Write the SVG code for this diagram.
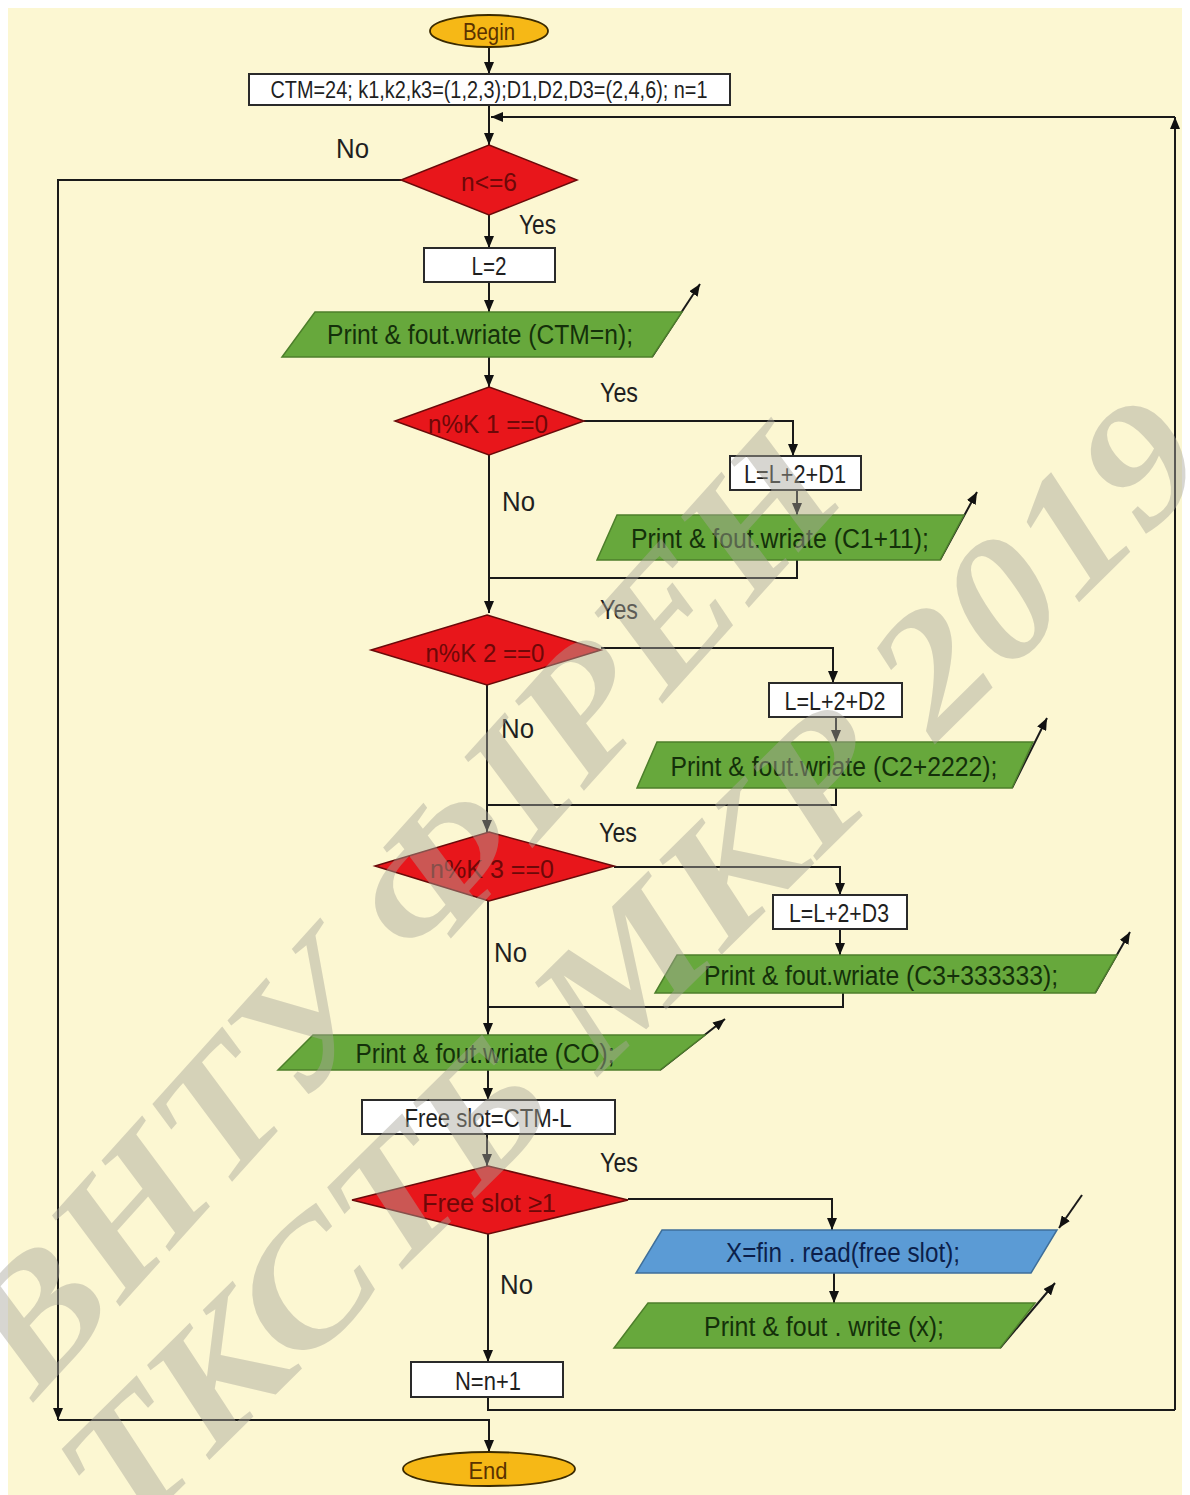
<svg xmlns="http://www.w3.org/2000/svg" width="1190" height="1495" viewBox="0 0 1190 1495">
<defs>
<marker id="ah" viewBox="0 0 12 10" refX="12" refY="5" markerWidth="12" markerHeight="10" markerUnits="userSpaceOnUse" orient="auto">
<path d="M0,0 L12,5 L0,10 Z" fill="#111"/>
</marker>
<style>
.bg{fill:#fcf7d2}
.ln{fill:none;stroke:#1a1a1a;stroke-width:2}
.ar{fill:none;stroke:#1a1a1a;stroke-width:2;marker-end:url(#ah)}
.term{fill:#f6b816;stroke:#3a2a00;stroke-width:1.8}
.box{fill:#ffffff;stroke:#2a2a2a;stroke-width:2}
.dia{fill:#e8161b;stroke:#6a0a0a;stroke-width:1.5}
.gp{fill:#67a83c;stroke:#4d7f2b;stroke-width:1.5}
.bp{fill:#5b9bd5;stroke:#3f6f9a;stroke-width:1.5}
text{font-family:"Liberation Sans Narrow","Liberation Sans",Arial,sans-serif}
.t{font-size:26px;fill:#1f1f1f;text-anchor:middle}
.tt{font-size:24px;fill:#5a3200;text-anchor:middle}
.td{font-size:26px;fill:#6e0808;text-anchor:middle}
.tg{font-size:27px;fill:#14300a;text-anchor:middle}
.tb{font-size:27px;fill:#0c1f4a;text-anchor:middle}
.lb{font-size:28px;fill:#1f1f1f}
.wm{font-family:"Liberation Serif","DejaVu Serif",serif;font-weight:bold;font-style:italic;font-size:170px;fill:#a8a69a;opacity:0.45;text-anchor:middle}
</style>
</defs>
<rect x="0" y="0" width="1190" height="1495" fill="#ffffff"/>
<rect class="bg" x="8" y="8" width="1174" height="1487"/>

<g id="connectors">
<line class="ar" x1="489" y1="47" x2="489" y2="74"/>
<line class="ar" x1="489" y1="105" x2="489" y2="145"/>
<polyline class="ar" points="1175,1410 1175,117"/>
<polyline class="ar" points="1175,117 491,117"/>
<polyline class="ar" points="401,180 58,180 58,1420"/>
<polyline class="ar" points="58,1420 489,1420 489,1452"/>
<line class="ar" x1="489" y1="215" x2="489" y2="248"/>
<line class="ar" x1="489" y1="282" x2="489" y2="312"/>
<line class="ar" x1="652" y1="357" x2="700" y2="284"/>
<line class="ar" x1="489" y1="357" x2="489" y2="387"/>
<polyline class="ar" points="584,421 793,421 793,456"/>
<line class="ar" x1="797" y1="490" x2="797" y2="515"/>
<line class="ar" x1="940" y1="560" x2="977" y2="492"/>
<line class="ar" x1="489" y1="455" x2="489" y2="613"/>
<polyline class="ln" points="797,560 797,578 489,578"/>
<polyline class="ar" points="601,648 833,648 833,683"/>
<line class="ar" x1="836" y1="717" x2="836" y2="742"/>
<line class="ar" x1="1012" y1="788" x2="1047" y2="718"/>
<line class="ar" x1="487" y1="685" x2="487" y2="832"/>
<polyline class="ln" points="836,788 836,805 487,805"/>
<polyline class="ar" points="614,867 840,867 840,895"/>
<line class="ar" x1="840" y1="929" x2="840" y2="955"/>
<line class="ar" x1="1095" y1="993" x2="1130" y2="932"/>
<line class="ar" x1="488" y1="901" x2="488" y2="1035"/>
<polyline class="ln" points="843,993 843,1007 488,1007"/>
<line class="ar" x1="660" y1="1070" x2="725" y2="1019"/>
<line class="ar" x1="488" y1="1070" x2="488" y2="1100"/>
<line class="ar" x1="487" y1="1134" x2="487" y2="1166"/>
<polyline class="ar" points="628,1199 832,1199 832,1230"/>
<line class="ar" x1="1082" y1="1195" x2="1059" y2="1228"/>
<line class="ar" x1="834" y1="1273" x2="834" y2="1303"/>
<line class="ar" x1="1000" y1="1348" x2="1055" y2="1283"/>
<line class="ar" x1="488" y1="1234" x2="488" y2="1362"/>
<polyline class="ln" points="488,1397 488,1410 1175,1410"/>
</g>

<g id="labels">
<text class="lb" x="336" y="158" textLength="33" lengthAdjust="spacingAndGlyphs">No</text>
<text class="lb" x="519" y="234" textLength="37" lengthAdjust="spacingAndGlyphs">Yes</text>
<text class="lb" x="600" y="402" textLength="38" lengthAdjust="spacingAndGlyphs">Yes</text>
<text class="lb" x="502" y="511" textLength="33" lengthAdjust="spacingAndGlyphs">No</text>
<text class="lb" x="600" y="619" textLength="38" lengthAdjust="spacingAndGlyphs">Yes</text>
<text class="lb" x="501" y="738" textLength="33" lengthAdjust="spacingAndGlyphs">No</text>
<text class="lb" x="599" y="842" textLength="38" lengthAdjust="spacingAndGlyphs">Yes</text>
<text class="lb" x="494" y="962" textLength="33" lengthAdjust="spacingAndGlyphs">No</text>
<text class="lb" x="600" y="1172" textLength="38" lengthAdjust="spacingAndGlyphs">Yes</text>
<text class="lb" x="500" y="1294" textLength="33" lengthAdjust="spacingAndGlyphs">No</text>
</g>

<g id="begin">
<ellipse class="term" cx="489" cy="31" rx="59" ry="16"/>
<text class="tt" x="489" y="40" textLength="52" lengthAdjust="spacingAndGlyphs">Begin</text>
</g>
<g id="init">
<rect class="box" x="249" y="74" width="481" height="31"/>
<text class="t" x="489" y="98" style="font-size:23px" textLength="437" lengthAdjust="spacingAndGlyphs">CTM=24; k1,k2,k3=(1,2,3);D1,D2,D3=(2,4,6); n=1</text>
</g>
<g id="cond-n">
<polygon class="dia" points="489,145 577,180 489,215 401,180"/>
<text class="td" x="489" y="191" textLength="56" lengthAdjust="spacingAndGlyphs">n&lt;=6</text>
</g>
<g id="l2">
<rect class="box" x="424" y="248" width="131" height="34"/>
<text class="t" x="489" y="275" textLength="35" lengthAdjust="spacingAndGlyphs">L=2</text>
</g>
<g id="print-ctm">
<polygon class="gp" points="315,312 682,312 652,357 282,357"/>
<text class="tg" x="480" y="344" textLength="306" lengthAdjust="spacingAndGlyphs">Print &amp; fout.wriate (CTM=n);</text>
</g>
<g id="cond-k1">
<polygon class="dia" points="489,387 584,421 489,455 395,421"/>
<text class="td" x="488" y="433" textLength="120" lengthAdjust="spacingAndGlyphs">n%K 1 ==0</text>
</g>
<g id="l-d1">
<rect class="box" x="730" y="456" width="131" height="34"/>
<text class="t" x="795" y="483" textLength="102" lengthAdjust="spacingAndGlyphs">L=L+2+D1</text>
</g>
<g id="print-c1">
<polygon class="gp" points="617,515 964,515 940,560 597,560"/>
<text class="tg" x="780" y="548" textLength="298" lengthAdjust="spacingAndGlyphs">Print &amp; fout.wriate (C1+11);</text>
</g>
<g id="cond-k2">
<polygon class="dia" points="487,615 601,650 487,685 371,650"/>
<text class="td" x="485" y="662" textLength="119" lengthAdjust="spacingAndGlyphs">n%K 2 ==0</text>
</g>
<g id="l-d2">
<rect class="box" x="769" y="683" width="133" height="34"/>
<text class="t" x="835" y="710" textLength="101" lengthAdjust="spacingAndGlyphs">L=L+2+D2</text>
</g>
<g id="print-c2">
<polygon class="gp" points="657,742 1033,742 1012,788 637,788"/>
<text class="tg" x="834" y="776" textLength="327" lengthAdjust="spacingAndGlyphs">Print &amp; fout.wriate (C2+2222);</text>
</g>
<g id="cond-k3">
<polygon class="dia" points="489,832 614,866 489,901 375,866"/>
<text class="td" x="492" y="878" textLength="124" lengthAdjust="spacingAndGlyphs">n%K 3 ==0</text>
</g>
<g id="l-d3">
<rect class="box" x="773" y="895" width="134" height="34"/>
<text class="t" x="839" y="922" textLength="100" lengthAdjust="spacingAndGlyphs">L=L+2+D3</text>
</g>
<g id="print-c3">
<polygon class="gp" points="677,955 1117,955 1095,993 655,993"/>
<text class="tg" x="881" y="985" textLength="354" lengthAdjust="spacingAndGlyphs">Print &amp; fout.wriate (C3+333333);</text>
</g>
<g id="print-co">
<polygon class="gp" points="313,1035 705,1035 660,1070 278,1070"/>
<text class="tg" x="485" y="1063" textLength="259" lengthAdjust="spacingAndGlyphs">Print &amp; fout.wriate (CO);</text>
</g>
<g id="free-slot">
<rect class="box" x="362" y="1100" width="253" height="34"/>
<text class="t" x="488" y="1127" textLength="167" lengthAdjust="spacingAndGlyphs">Free slot=CTM-L</text>
</g>
<g id="cond-free">
<polygon class="dia" points="488,1166 628,1200 488,1234 352,1200"/>
<text class="td" x="489" y="1212" textLength="134" lengthAdjust="spacingAndGlyphs">Free slot ≥1</text>
</g>
<g id="read">
<polygon class="bp" points="662,1230 1057,1230 1031,1273 636,1273"/>
<text class="tb" x="843" y="1262" textLength="234" lengthAdjust="spacingAndGlyphs">X=fin . read(free slot);</text>
</g>
<g id="write">
<polygon class="gp" points="648,1303 1035,1303 1000,1348 614,1348"/>
<text class="tg" x="824" y="1336" textLength="240" lengthAdjust="spacingAndGlyphs">Print &amp; fout . write (x);</text>
</g>
<g id="inc">
<rect class="box" x="411" y="1362" width="152" height="35"/>
<text class="t" x="488" y="1390" textLength="66" lengthAdjust="spacingAndGlyphs">N=n+1</text>
</g>
<g id="end">
<ellipse class="term" cx="489" cy="1469" rx="86" ry="17"/>
<text class="tt" x="488" y="1479" textLength="39" lengthAdjust="spacingAndGlyphs">End</text>
</g>

<g id="watermark">
<text class="wm" transform="translate(400,910) rotate(-48)" dominant-baseline="central" textLength="1220" lengthAdjust="spacingAndGlyphs">ВНТУ ФІРЕН</text>
<text class="wm" transform="translate(630,965) rotate(-44.6)" dominant-baseline="central" textLength="1530" lengthAdjust="spacingAndGlyphs">ТКСТБ МКР 2019</text>
</g>
</svg>
